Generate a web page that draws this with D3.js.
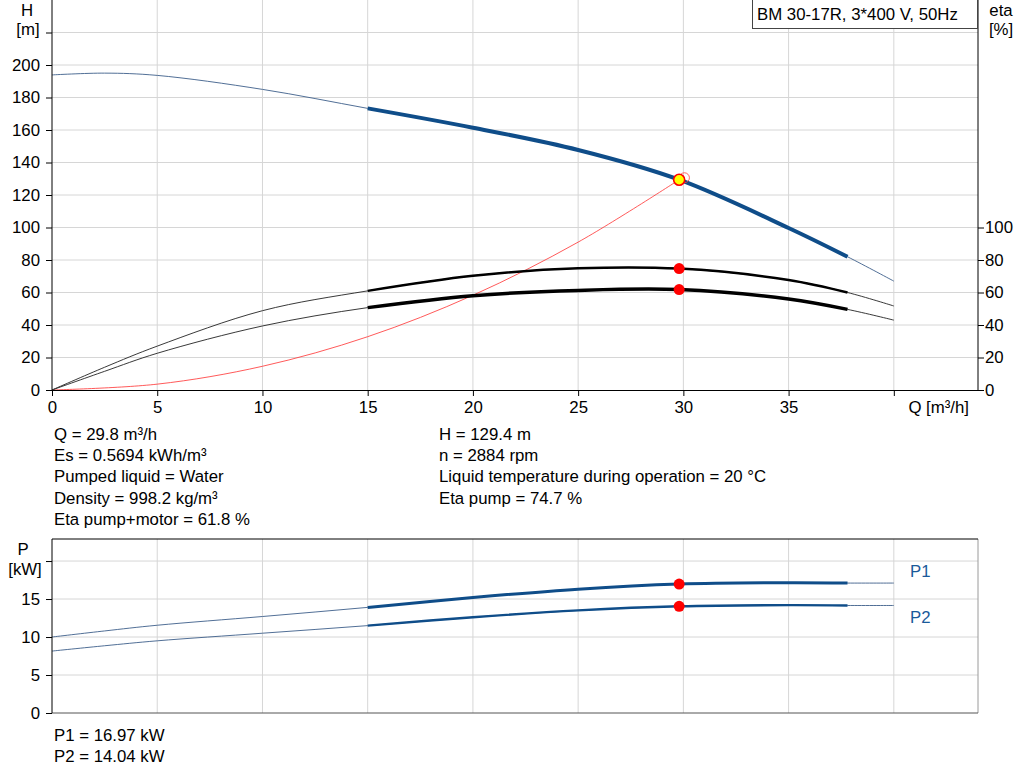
<!DOCTYPE html>
<html lang="en">
  <head>
    <meta charset="UTF-8" />
    <title>BM 30-17R pump curve</title>
    <style>
      body { margin: 0; background: #fff; }
      svg text { font-family: "Liberation Sans", Arial, sans-serif; font-size: 16.8px; fill: #000; }
      .grid line { stroke: #d6d6d6; stroke-width: 1; }
    </style>
  </head>

  <body>
    <div id="chart"></div>

  <script src="https://d3js.org/d3.v7.min.js"></script>
    <script>

// flow points shared by all curves [m3/h]
var flow      = [0, 2.5, 5, 10, 15, 20, 25, 29.8, 35, 37.8, 40];
var head      = [193.9, 195, 193.6, 185, 173.3, 161.4, 147.7, 129.4, 99.7, 82, 67];
var etaPump   = [0, 14, 27, 48.8, 61, 70.3, 74.9, 74.7, 67.7, 60, 51.7];
var etaTotal  = [0, 11.5, 22.6, 39.4, 50.7, 58, 61.3, 61.8, 56, 49.6, 43];
var power1    = [10.0, 10.8, 11.55, 12.7, 13.9, 15.2, 16.3, 16.97, 17.15, 17.1, 17.1];
var power2    = [8.15, 8.85, 9.5, 10.5, 11.5, 12.6, 13.5, 14.04, 14.2, 14.15, 14.15];

// system curve through the duty point
var sysFlow   = [0, 5, 10, 15, 20, 25, 29.8];
var sysHead   = [0, 3.6, 14.6, 32.8, 58.3, 91, 129.4];

var dutyQ = 29.8, dutyH = 129.4, dutyEta = 74.7, dutyEtaTot = 61.8, dutyP1 = 16.97, dutyP2 = 14.04;
var ringQ = 30.05, ringH = 130.6;

// thick part of the curves = recommended range
var rangeMin = 15, rangeMax = 37.8;

var qTicks   = [0, 5, 10, 15, 20, 25, 30, 35, 40];
var hTicks   = [0, 20, 40, 60, 80, 100, 120, 140, 160, 180, 200, 220];
var etaTicks = [0, 20, 40, 60, 80, 100];
var pTicks   = [0, 5, 10, 15, 20];

var infoLeft  = ["Q = 29.8 m³/h", "Es = 0.5694 kWh/m³", "Pumped liquid = Water", "Density = 998.2 kg/m³", "Eta pump+motor = 61.8 %"];
var infoRight = ["H = 129.4 m", "n = 2884 rpm", "Liquid temperature during operation = 20 °C", "Eta pump = 74.7 %"];
var infoPower = ["P1 = 16.97 kW", "P2 = 14.04 kW"];

var w = 1024;
var h = 781;
var blue = "#0f4d89";
var fontSize = "16.8px";

var svg = d3.select("#chart").append("svg")
            .attr("width", w)
            .attr("height", h);

var x  = d3.scaleLinear().domain([0, 44]).range([52, 978]);
var yH = d3.scaleLinear().domain([0, 240]).range([390, 0]);
var yP = d3.scaleLinear().domain([0, 22.9]).range([713, 539]);

function pts(xs, ys) {
  return xs.map(function(q, i) { return { q: q, v: ys[i] }; });
}
function inRange(d) { return d.q >= rangeMin && d.q <= rangeMax; }

// ---------- top chart ----------
var topG = svg.append("g");

var gridTop = topG.append("g").attr("class", "grid");
gridTop.selectAll("line.v")
       .data(qTicks.slice(1))
       .enter()
       .append("line")
       .attr("x1", function(d) { return x(d); })
       .attr("x2", function(d) { return x(d); })
       .attr("y1", yH(240))
       .attr("y2", yH(0));
gridTop.selectAll("line.h")
       .data(hTicks.slice(1))
       .enter()
       .append("line")
       .attr("x1", x(0))
       .attr("x2", x(44))
       .attr("y1", function(d) { return yH(d); })
       .attr("y2", function(d) { return yH(d); });

var lineH = d3.line()
              .x(function(d) { return x(d.q); })
              .y(function(d) { return yH(d.v); })
              .curve(d3.curveCatmullRom.alpha(0.5));

var headPts = pts(flow, head);
var etaPts  = pts(flow, etaPump);
var totPts  = pts(flow, etaTotal);
var sysPts  = pts(sysFlow, sysHead);

topG.append("path").datum(sysPts)
   .attr("d", lineH).attr("fill", "none")
   .attr("stroke", "#ff3030").attr("stroke-width", 0.8);

topG.append("path").datum(etaPts)
   .attr("d", lineH).attr("fill", "none")
   .attr("stroke", "#222").attr("stroke-width", 0.9);
topG.append("path").datum(etaPts.filter(inRange))
   .attr("d", lineH).attr("fill", "none")
   .attr("stroke", "#000").attr("stroke-width", 2.5);

topG.append("path").datum(totPts)
   .attr("d", lineH).attr("fill", "none")
   .attr("stroke", "#222").attr("stroke-width", 0.9);
topG.append("path").datum(totPts.filter(inRange))
   .attr("d", lineH).attr("fill", "none")
   .attr("stroke", "#000").attr("stroke-width", 3.5);

topG.append("path").datum(headPts)
   .attr("d", lineH).attr("fill", "none")
   .attr("stroke", "#3d5f8a").attr("stroke-width", 0.9);
topG.append("path").datum(headPts.filter(inRange))
   .attr("d", lineH).attr("fill", "none")
   .attr("stroke", blue).attr("stroke-width", 4);

topG.selectAll("circle.eta")
   .data([dutyEta, dutyEtaTot])
   .enter()
   .append("circle")
   .attr("cx", x(dutyQ))
   .attr("cy", function(d) { return yH(d); })
   .attr("r", 5.5)
   .attr("fill", "#ff0000");

topG.append("circle")
   .attr("cx", x(ringQ)).attr("cy", yH(ringH)).attr("r", 5)
   .attr("fill", "none").attr("stroke", "#ff4040").attr("stroke-width", 0.8);
topG.append("circle")
   .attr("cx", x(dutyQ)).attr("cy", yH(dutyH)).attr("r", 5.5)
   .attr("fill", "#ffff00").attr("stroke", "#ff0000").attr("stroke-width", 1.6);

// axes
var axQ = topG.append("g")
             .attr("transform", "translate(0," + yH(0) + ")")
             .call(d3.axisBottom(x).tickValues(qTicks).tickSize(6).tickSizeOuter(0)
                     .tickFormat(function(d) { return d == 40 ? "" : d; }));
var axL = topG.append("g")
             .attr("transform", "translate(" + x(0) + ",0)")
             .call(d3.axisLeft(yH).tickValues(hTicks).tickSize(6).tickSizeOuter(0)
                     .tickFormat(function(d) { return d == 220 ? "" : d; }));
var axR = topG.append("g")
             .attr("transform", "translate(" + x(44) + ",0)")
             .call(d3.axisRight(yH).tickValues(etaTicks).tickSize(6).tickSizeOuter(0));

topG.selectAll(".tick text").style("font-size", fontSize).style("font-family", "Liberation Sans, Arial, sans-serif");
axQ.selectAll(".tick text").attr("y", 8).attr("dy", "0.9em");
axL.select(".domain").attr("d", "M0," + yH(240) + "V" + yH(0));
axR.select(".domain").attr("d", "M0," + yH(240) + "V" + yH(0));
axL.selectAll(".tick text").attr("x", -12);
axR.selectAll(".tick text").attr("x", 7);

topG.append("text").attr("x", 969).attr("y", 413).attr("text-anchor", "end").text("Q [m³/h]");
topG.append("text").attr("x", 27).attr("y", 16).attr("text-anchor", "middle").text("H");
topG.append("text").attr("x", 28).attr("y", 35).attr("text-anchor", "middle").text("[m]");
topG.append("text").attr("x", 1001).attr("y", 16).attr("text-anchor", "middle").text("eta");
topG.append("text").attr("x", 1001).attr("y", 35).attr("text-anchor", "middle").text("[%]");

topG.append("rect")
   .attr("x", 752.5).attr("y", -1).attr("width", 225).attr("height", 29.5)
   .attr("fill", "#fff").attr("stroke", "#444").attr("stroke-width", 1);
topG.append("text").attr("x", 757).attr("y", 20).text("BM 30-17R, 3*400 V, 50Hz");

// info texts
svg.selectAll("text.infoL")
   .data(infoLeft)
   .enter()
   .append("text")
   .attr("class", "infoL")
   .attr("x", 54)
   .attr("y", function(d, i) { return 439.5 + i * 21.4; })
   .text(function(d) { return d; });
svg.selectAll("text.infoR")
   .data(infoRight)
   .enter()
   .append("text")
   .attr("class", "infoR")
   .attr("x", 439)
   .attr("y", function(d, i) { return 439.5 + i * 21.4; })
   .text(function(d) { return d; });

// ---------- power chart ----------
var botG = svg.append("g");

var gridBot = botG.append("g").attr("class", "grid");
gridBot.selectAll("line.v")
       .data(qTicks.slice(1))
       .enter()
       .append("line")
       .attr("x1", function(d) { return x(d); })
       .attr("x2", function(d) { return x(d); })
       .attr("y1", yP(22.9))
       .attr("y2", yP(0));
gridBot.selectAll("line.h")
       .data(pTicks.slice(1))
       .enter()
       .append("line")
       .attr("x1", x(0))
       .attr("x2", x(44))
       .attr("y1", function(d) { return yP(d); })
       .attr("y2", function(d) { return yP(d); });

botG.append("line")
   .attr("x1", x(44)).attr("x2", x(44)).attr("y1", yP(22.9)).attr("y2", yP(0))
   .attr("stroke", "#9a9a9a").attr("stroke-width", 1);
botG.append("line")
   .attr("x1", x(0)).attr("x2", x(44)).attr("y1", yP(0)).attr("y2", yP(0))
   .attr("stroke", "#555").attr("stroke-width", 1);
botG.append("line")
   .attr("x1", x(0)).attr("x2", x(44)).attr("y1", yP(22.9)).attr("y2", yP(22.9))
   .attr("stroke", "#000").attr("stroke-width", 1);

var lineP = d3.line()
              .x(function(d) { return x(d.q); })
              .y(function(d) { return yP(d.v); })
              .curve(d3.curveCatmullRom.alpha(0.5));

var p1Pts = pts(flow, power1);
var p2Pts = pts(flow, power2);

[[p1Pts, 3], [p2Pts, 2.4]].forEach(function(s) {
  botG.append("path").datum(s[0])
     .attr("d", lineP).attr("fill", "none")
     .attr("stroke", "#3d5f8a").attr("stroke-width", 0.9);
  botG.append("path").datum(s[0].filter(inRange))
     .attr("d", lineP).attr("fill", "none")
     .attr("stroke", blue).attr("stroke-width", s[1]);
});

botG.selectAll("circle.p")
   .data([dutyP1, dutyP2])
   .enter()
   .append("circle")
   .attr("cx", x(dutyQ))
   .attr("cy", function(d) { return yP(d); })
   .attr("r", 5.5)
   .attr("fill", "#ff0000");

var axP = botG.append("g")
             .attr("transform", "translate(" + x(0) + ",0)")
             .call(d3.axisLeft(yP).tickValues(pTicks).tickSize(6).tickSizeOuter(0)
                     .tickFormat(function(d) { return d == 20 ? "" : d; }));
axP.select(".domain").attr("d", "M0," + yP(22.9) + "V" + yP(0));
axP.selectAll(".tick text").attr("x", -12).style("font-size", fontSize).style("font-family", "Liberation Sans, Arial, sans-serif");

botG.append("text").attr("x", 23).attr("y", 555).attr("text-anchor", "middle").text("P");
botG.append("text").attr("x", 25).attr("y", 575).attr("text-anchor", "middle").text("[kW]");
botG.append("text").attr("x", 910).attr("y", 577).style("fill", "#1a5a9a").text("P1");
botG.append("text").attr("x", 910).attr("y", 623).style("fill", "#1a5a9a").text("P2");

svg.selectAll("text.infoP")
   .data(infoPower)
   .enter()
   .append("text")
   .attr("class", "infoP")
   .attr("x", 54)
   .attr("y", function(d, i) { return 741 + i * 21; })
   .text(function(d) { return d; });

</script>

  </body>
</html>
